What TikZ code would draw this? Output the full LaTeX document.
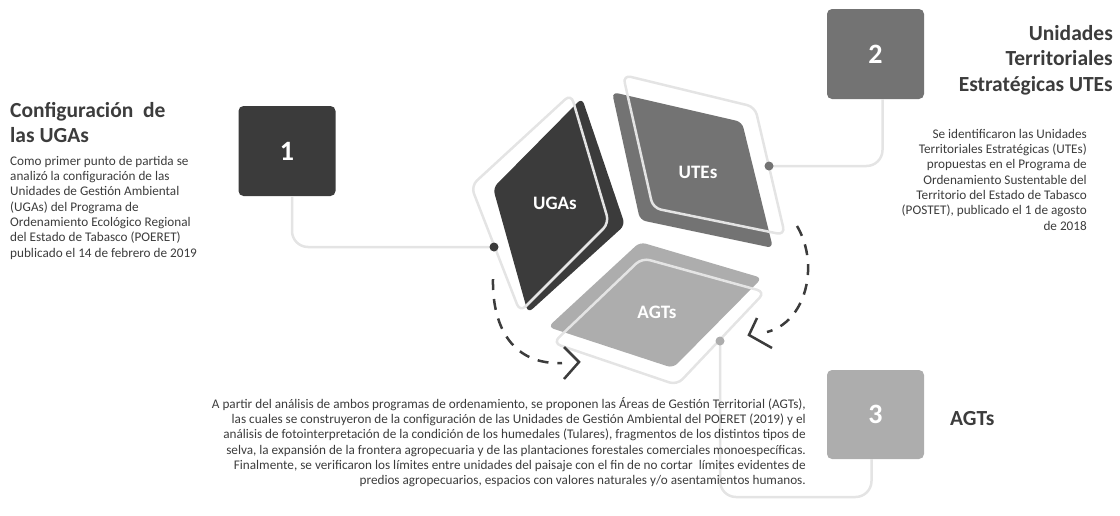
\documentclass[tikz,border=0pt]{standalone}
\usepackage{fontspec}
\setmainfont{Carlito}
\usetikzlibrary{calc}
\definecolor{cdark}{HTML}{3B3B3B}
\definecolor{cmid}{HTML}{737373}
\definecolor{clight}{HTML}{ADADAD}
\definecolor{cline}{HTML}{E4E4E4}
\definecolor{ctext}{HTML}{3C3C3C}
\begin{document}
\begin{tikzpicture}[x=1pt,y=-1pt,
 numbox/.style={rounded corners=5pt, minimum width=97pt, minimum height=90pt, inner sep=0pt, text=white, font=\bfseries\fontsize{28}{32}\selectfont},
 dotnode/.style={circle, inner sep=0pt, minimum size=9pt},
 link/.style={draw=cline, line width=2.5pt, rounded corners=16pt},
 rim/.style={draw=cline, line width=2.5pt, rounded corners=8pt},
 face/.style={rounded corners=6pt},
 facelabel/.style={text=white, font=\bfseries\fontsize{19}{21}\selectfont, inner sep=0pt},
 cyclearc/.style={draw=ctext, line width=2.5pt, dash pattern=on 11pt off 9pt},
 chevron/.style={draw=ctext, line width=2.5pt},
 titletext/.style={font=\bfseries\fontsize{21.5}{25.5}\selectfont, text=ctext, inner sep=0pt},
 bodytext/.style={font=\fontsize{13.2}{15.3}\selectfont, text=ctext, inner sep=0pt},
]
\useasboundingbox (0,0) rectangle (1120,515);

% faces
\fill[cdark, face] (582,98) -- (625,225) -- (528,313) -- (493,188) -- cycle;
\fill[cmid, face] (612,92) -- (742,122) -- (773,248) -- (640,220) -- cycle;
\fill[clight, face] (640,242) -- (762,278) -- (673,368) -- (548,327) -- cycle;
% rims
\draw[rim] (571,94) -- (609,223) -- (520,312) -- (471,186) -- cycle;
\draw[rim] (623,75) -- (755,107) -- (785,235) -- (653,208) -- cycle;
\draw[rim] (642,258) -- (765,292) -- (677,385) -- (553,343) -- cycle;

\node[facelabel] (lugas) at (555,203) {UGAs};
\node[facelabel] (lutes) at (698,172) {UTEs};
\node[facelabel] (lagts) at (657,312) {AGTs};

% cycle arcs
\draw[cyclearc] (493,279) .. controls (492,330) and (515,365) .. (562,363);
\draw[chevron] (564,347) -- (579,362) -- (564,379);
\draw[cyclearc] (797,226) .. controls (820,265) and (806,322) .. (767,332);
\draw[chevron] (757,318) -- (749,335) -- (772,348);

% number boxes
\node[numbox, fill=cdark] (box1) at (287,151) {1};
\node[numbox, fill=cmid] (box2) at (875.5,54) {2};
\node[numbox, fill=clight, minimum height=89pt] (box3) at (875.5,414.5) {3};

% dots
\coordinate (c3) at (720,497);
\node[dotnode] (dot1) at (494,247) {};
\node[dotnode] (dot2) at (769,166) {};
\node[dotnode] (dot3) at (720,341) {};

\draw[link] ([xshift=5pt]box1.south) |- (dot1.center);
\draw[link] ([xshift=7pt]box2.south) |- (dot2.center);
\draw[link] ([xshift=-4pt]box3.south) |- (c3) -- (dot3.center);

\fill[cdark] (dot1) circle (4.5pt);
\fill[cmid] (dot2) circle (4.5pt);
\fill[clight] (dot3) circle (4.5pt);

% texts
\node[titletext, anchor=north west, align=left] (t1) at (10,102) {Configuración~~de\\las UGAs};
\node[bodytext, anchor=north west, align=left] (b1) at (10,156) {Como primer punto de partida se\\analizó la configuración de las\\Unidades de Gestión Ambiental\\(UGAs) del Programa de\\Ordenamiento Ecológico Regional\\del Estado de Tabasco (POERET)\\publicado el 14 de febrero de 2019};

\node[titletext, anchor=north east, align=right] (t2) at (1113,25) {Unidades\\Territoriales\\Estratégicas UTEs};
\node[bodytext, anchor=north east, align=right] (b2) at (1087,129) {Se identificaron las Unidades\\Territoriales Estratégicas (UTEs)\\propuestas en el Programa de\\Ordenamiento Sustentable del\\Territorio del Estado de Tabasco\\(POSTET), publicado el 1 de agosto\\de 2018};

\node[titletext, anchor=base west] (t3) at (950,425) {AGTs};
\node[bodytext, anchor=north east, align=right] (b3) at (806,397) {A partir del análisis de ambos programas de ordenamiento, se proponen las Áreas de Gestión Territorial (AGTs),\\las cuales se construyeron de la configuración de las Unidades de Gestión Ambiental del POERET (2019) y el\\análisis de fotointerpretación de la condición de los humedales (Tulares), fragmentos de los distintos tipos de\\selva, la expansión de la frontera agropecuaria y de las plantaciones forestales comerciales monoespecíficas.\\Finalmente, se verificaron los límites entre unidades del paisaje con el fin de no cortar~ límites evidentes de\\predios agropecuarios, espacios con valores naturales y/o asentamientos humanos.};
\end{tikzpicture}
\end{document}
